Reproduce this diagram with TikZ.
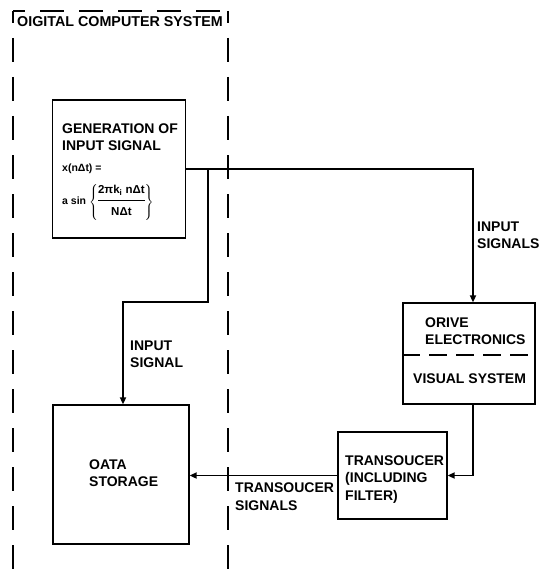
\documentclass[tikz,border=0pt]{standalone}
\usepackage{fontspec}
\setmainfont{Liberation Sans}[BoldFont={Liberation Sans Bold}]
\usetikzlibrary{arrows.meta}
\begin{document}
\begin{tikzpicture}[x=1pt,y=-1pt,
  lbl/.style={anchor=base west,inner sep=0pt,align=left,font=\bfseries\fontsize{14}{17.5}\selectfont},
  small/.style={anchor=base west,inner sep=0pt,font=\bfseries\fontsize{10.5}{12}\selectfont},
  blk/.style={draw,line width=1.3pt,minimum width=#1,inner sep=0pt},
  conn/.style={line width=1.9pt},
  arr/.style={conn,-{Triangle[length=7pt,width=6pt]}},
  frame/.style={line width=1.3pt,dash pattern=on 24pt off 15pt,dash phase=12pt}]
\useasboundingbox (0,0) rectangle (540,583);
% frame
\draw[frame] (13,11) -- (13,583);
\draw[frame] (13,11) -- (228,11);
\draw[frame] (228,11) -- (228,583);
\node[lbl,font=\bfseries\fontsize{14.3}{17}\selectfont] (title) at (17,27) {OIGITAL COMPUTER SYSTEM};
% blocks
\node[blk=133pt,minimum height=138pt] (gen) at (119,169) {};
\node[blk=136pt,minimum height=139pt] (data) at (121,474.5) {};
\node[blk=132pt,minimum height=101pt] (drive) at (469,353.5) {};
\node[blk=109pt,minimum height=87pt] (trans) at (392.5,475.5) {};
\draw[line width=1.3pt,dash pattern=on 18pt off 9pt] (drive.west |- 0,355) -- (drive.east |- 0,355);
% texts (anchor = baseline of last line)
\node[lbl] (gent) at (62,150.5) {GENERATION OF\\INPUT SIGNAL};
\node[small] (xn) at (62,171) {x(nΔt) =};
\node[small] (asin) at (62,204) {a sin};
\node[anchor=west,inner sep=0pt,font=\bfseries\fontsize{11.5}{13}\selectfont] (frm) at (89,202)
  {$\left\{\vcenter{\hbox{\begin{tabular}{@{}c@{}}2πk\textsubscript{i} nΔt\\[3pt]\hline\rule{0pt}{15pt}NΔt\end{tabular}}}\right\}$};
\node[lbl] (datat) at (89,486.5) {OATA\\STORAGE};
\node[lbl] (drivet) at (425,344.5) {ORIVE\\ELECTRONICS};
\node[lbl] (vis) at (413,383) {VISUAL SYSTEM};
\node[lbl] (transt) at (345,500) {TRANSOUCER\\(INCLUDING\\FILTER)};
\node[lbl] (l1) at (130,367.5) {INPUT\\SIGNAL};
\node[lbl] (l2) at (477,248.5) {INPUT\\SIGNALS};
\node[lbl,font=\bfseries\fontsize{14}{18.5}\selectfont] (l3) at (235,510.5) {TRANSOUCER\\SIGNALS};
% connectors
\coordinate (c1) at (473,169);
\coordinate (b1) at (208,169);
\coordinate (b2) at (208,302);
\coordinate (b3) at (123,302);
\coordinate (d1) at (473,404);
\draw[arr] (gen.east) -- (c1) -- (c1 |- drive.north);
\draw[arr] (b1) -- (b2) -- (b3) -- (b3 |- data.north);
\draw[arr] (d1) -- (d1 |- trans.east) -- (trans.east);
\draw[arr] (trans.west) -- (trans.west -| data.east);
\end{tikzpicture}
\end{document}
